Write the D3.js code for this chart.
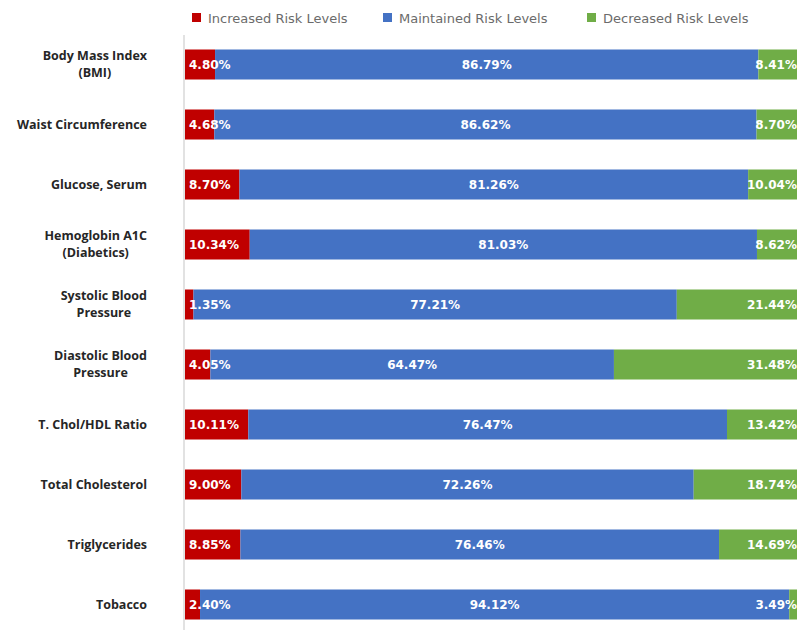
<!DOCTYPE html>
<html lang="en">
<head>
<meta charset="utf-8">
<title>Risk Levels</title>
<style>
  body { margin: 0; background: white; }
  svg { display: block; }
</style>
<script src="https://d3js.org/d3.v7.min.js"></script>
</head>
<body>
<script>
let categories = [
  "Body Mass Index\n(BMI)",
  "Waist Circumference",
  "Glucose, Serum",
  "Hemoglobin A1C\n(Diabetics)",
  "Systolic Blood\nPressure",
  "Diastolic Blood\nPressure",
  "T. Chol/HDL Ratio",
  "Total Cholesterol",
  "Triglycerides",
  "Tobacco"
]
let increased  = [4.80, 4.68, 8.70, 10.34, 1.35, 4.05, 10.11, 9.00, 8.85, 2.40]
let maintained = [86.79, 86.62, 81.26, 81.03, 77.21, 64.47, 76.47, 72.26, 76.46, 94.12]
let decreased  = [8.41, 8.70, 10.04, 8.62, 21.44, 31.48, 13.42, 18.74, 14.69, 3.49]
let seriesNames = ["Increased Risk Levels", "Maintained Risk Levels", "Decreased Risk Levels"]
let colors = ["#C00000", "#4472C4", "#70AD47"]

let width = 797
let height = 630

let svg = d3.select("body").append("svg")
    .attr("width", width)
    .attr("height", height)

let rows = categories.map((c, i) => ({cat: c, vals: [increased[i], maintained[i], decreased[i]]}))

let x = d3.scaleLinear().domain([0, 100]).range([185, 811])
let y = d3.scaleBand().domain(categories).range([34.5, 634.5]).paddingInner(0.5).paddingOuter(0.25)

// axis line
svg.append("g")
    .attr("transform", "translate(183.5,0)")
    .call(d3.axisLeft(y).tickSize(0).tickFormat("").tickSizeOuter(0))
    .call(g => g.select(".domain").attr("stroke", "#d9d9d9").attr("stroke-width", 1.5))

// stacked segments
let segs = []
rows.forEach(d => {
  let start = 0
  d.vals.forEach((v, k) => {
    segs.push({cat: d.cat, k: k, v: v, x0: start, x1: start + v})
    start += v
  })
})

svg.append("g").selectAll("rect")
    .data(segs)
    .enter().append("rect")
    .attr("x", d => x(d.x0))
    .attr("y", d => y(d.cat))
    .attr("width", d => x(d.x1) - x(d.x0))
    .attr("height", y.bandwidth())
    .attr("fill", d => colors[d.k])

// labels: base for red, centre for blue, end for green
svg.append("g").selectAll("text")
    .data(segs)
    .enter().append("text")
    .attr("x", d => d.k == 0 ? x(d.x0) + 4 : d.k == 1 ? x((d.x0 + d.x1) / 2) : x(d.x1) - 14)
    .attr("y", d => y(d.cat) + y.bandwidth() / 2)
    .attr("dy", "0.4em")
    .attr("text-anchor", d => d.k == 0 ? "start" : d.k == 1 ? "middle" : "end")
    .attr("fill", "white")
    .attr("font-family", "DejaVu Sans")
    .attr("font-weight", "bold")
    .attr("font-size", 12)
    .text(d => d.v.toFixed(2) + "%")

// category labels, multi line centred, block right aligned
let labelRight = 147
rows.forEach(d => {
  let lines = d.cat.split("\n")
  let cy = y(d.cat) + y.bandwidth() / 2
  let t = svg.append("text")
    .attr("font-family", "Open Sans")
    .attr("font-weight", "bold")
    .attr("font-size", 12.5)
    .attr("fill", "#262626")
  let spans = lines.map((l, i) => t.append("tspan")
    .attr("y", cy + (i - (lines.length - 1) / 2) * 17)
    .attr("dy", "0.35em")
    .text(l))
  let maxW = d3.max(spans, s => s.node().getComputedTextLength())
  t.attr("text-anchor", "middle")
  spans.forEach(s => s.attr("x", labelRight - maxW / 2))
})

// legend
let legendX = [192, 383, 587]
seriesNames.forEach((n, i) => {
  svg.append("rect")
    .attr("x", legendX[i])
    .attr("y", 13)
    .attr("width", 9)
    .attr("height", 9)
    .attr("fill", colors[i])
  svg.append("text")
    .attr("x", legendX[i] + 16)
    .attr("y", 18)
    .attr("dy", "0.35em")
    .attr("font-family", "DejaVu Sans")
    .attr("font-size", 13)
    .attr("fill", "#6b6b6b")
    .text(n)
})
</script>
</body>
</html>
